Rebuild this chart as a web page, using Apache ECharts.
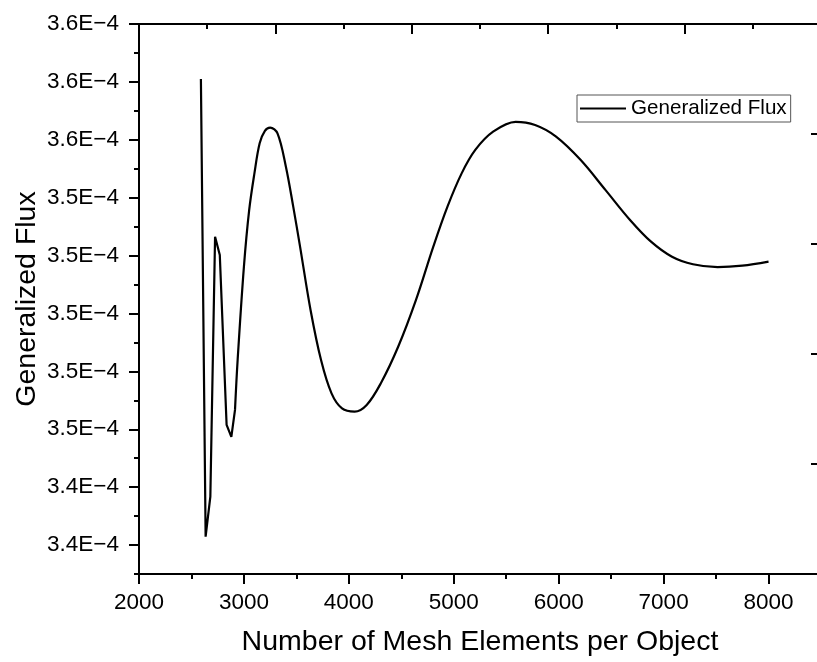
<!DOCTYPE html>
<html><head><meta charset="utf-8">
<script src="https://cdn.jsdelivr.net/npm/echarts@6/dist/echarts.min.js"></script>
<style>html,body{margin:0;padding:0;background:#fff}#c{width:817px;height:662px}</style>
</head><body><div id="c"></div>
<script>
const seriesName = 'Generalized Flux';
const xTitle = 'Number of Mesh Elements per Object';
const yTitle = 'Generalized Flux';

// jagged start (straight segments)
const meshStart = [2590, 2635, 2680, 2725, 2770, 2835, 2880, 2915];
const fluxStart = [3.5810e-4, 3.4229e-4, 3.4367e-4, 3.5265e-4, 3.5202e-4, 3.4615e-4, 3.4574e-4, 3.4667e-4];
// smooth remainder
const meshSmooth = [2915, 2940, 3000, 3050, 3100, 3150, 3200, 3250, 3320, 3400, 3470, 3535, 3635, 3735, 3835, 3935, 4055, 4170, 4305, 4470, 4640, 4805, 4940, 5075, 5205, 5375, 5590, 5775, 5975, 6210, 6445, 6680, 6880, 7080, 7280, 7515, 7750, 8000];
const fluxSmooth = [3.4667e-4, 3.4839e-4, 3.5162e-4, 3.5357e-4, 3.5484e-4, 3.5588e-4, 3.5631e-4, 3.5642e-4, 3.5622e-4, 3.5507e-4, 3.5369e-4, 3.5231e-4, 3.5012e-4, 3.4839e-4, 3.4724e-4, 3.4672e-4, 3.4661e-4, 3.4684e-4, 3.4759e-4, 3.4885e-4, 3.5047e-4, 3.5231e-4, 3.5369e-4, 3.5484e-4, 3.5565e-4, 3.5628e-4, 3.5662e-4, 3.5651e-4, 3.5611e-4, 3.5530e-4, 3.5427e-4, 3.5323e-4, 3.5248e-4, 3.5196e-4, 3.5170e-4, 3.5160e-4, 3.5165e-4, 3.5179e-4];

const yMajorTicks = [3.42e-4, 3.44e-4, 3.46e-4, 3.48e-4, 3.50e-4, 3.52e-4, 3.54e-4, 3.56e-4, 3.58e-4, 3.60e-4];
const yMinorTicks = [3.41e-4, 3.43e-4, 3.45e-4, 3.47e-4, 3.49e-4, 3.51e-4, 3.53e-4, 3.55e-4, 3.57e-4, 3.59e-4];
const xMajorTicks = [2000, 3000, 4000, 5000, 6000, 7000, 8000];
const xMinorTicks = [2500, 3500, 4500, 5500, 6500, 7500];

const FONT = 'Liberation Sans, Arial, Helvetica, sans-serif';
const BLACK = '#000';

const chart = echarts.init(document.getElementById('c'), null, {renderer: 'canvas'});

function zip(a, b) { return a.map((v, i) => [v, b[i]]); }

const yFmt = v => Number(v).toExponential(1).replace('e', 'E').replace('-', '\u2212');
const xFmt = v => String(Math.round(v));

const option = {
  backgroundColor: '#fff',
  animation: false,
  grid: {left: 139, right: -4, top: 24, bottom: 88, containLabel: false, outerBoundsMode: 'none'},
  legend: {
    data: [seriesName],
    left: 577, top: 95,
    orient: 'vertical',
    itemWidth: 46, itemHeight: 14,
    padding: [3, 4, 3, 2],
    borderColor: '#555', borderWidth: 1,
    textStyle: {fontFamily: FONT, fontSize: 20.6, color: BLACK},
    itemStyle: {opacity: 0}
  },
  xAxis: [
    {
      type: 'value', position: 'bottom', min: 2000, max: 8500,
      name: xTitle, nameLocation: 'middle', nameGap: 54, nameMoveOverlap: false,
      nameTextStyle: {fontFamily: FONT, fontSize: 28.5, color: BLACK},
      axisLine: {show: true, lineStyle: {color: BLACK, width: 2}},
      axisTick: {show: true, customValues: xMajorTicks, length: 10, lineStyle: {color: BLACK, width: 2}},
      axisLabel: {show: true, customValues: xMajorTicks, margin: 17, fontFamily: FONT, fontSize: 22.5, color: BLACK, formatter: xFmt},
      splitLine: {show: false}
    },
    {
      type: 'value', position: 'bottom', min: 2000, max: 8500,
      axisLine: {show: false},
      axisTick: {show: true, customValues: xMinorTicks, length: 5, lineStyle: {color: BLACK, width: 2}},
      axisLabel: {show: false},
      splitLine: {show: false}
    },
    {
      type: 'value', position: 'top', min: 0, max: 5, interval: 1,
      axisLine: {show: true, lineStyle: {color: BLACK, width: 2}},
      axisTick: {show: true, inside: true, length: 10, lineStyle: {color: BLACK, width: 2}},
      minorTick: {show: true, splitNumber: 2, length: 5, lineStyle: {color: BLACK, width: 2}},
      axisLabel: {show: false},
      splitLine: {show: false}
    }
  ],
  yAxis: [
    {
      type: 'value', position: 'left', min: 3.41e-4, max: 3.60e-4,
      name: yTitle, nameLocation: 'middle', nameGap: 97, nameMoveOverlap: false,
      nameTextStyle: {fontFamily: FONT, fontSize: 28.5, color: BLACK},
      axisLine: {show: true, lineStyle: {color: BLACK, width: 2}},
      axisTick: {show: true, customValues: yMajorTicks, length: 10, lineStyle: {color: BLACK, width: 2}},
      axisLabel: {show: true, customValues: yMajorTicks, margin: 20, fontFamily: FONT, fontSize: 22.5, color: BLACK, formatter: yFmt},
      splitLine: {show: false}
    },
    {
      type: 'value', position: 'left', min: 3.41e-4, max: 3.60e-4,
      axisLine: {show: false},
      axisTick: {show: true, customValues: yMinorTicks, length: 5, lineStyle: {color: BLACK, width: 2}},
      axisLabel: {show: false},
      splitLine: {show: false}
    },
    {
      type: 'value', position: 'right', min: 0, max: 10, interval: 2,
      axisLine: {show: true, lineStyle: {color: BLACK, width: 2}},
      axisTick: {show: true, inside: true, length: 10, lineStyle: {color: BLACK, width: 2}},
      minorTick: {show: true, splitNumber: 2, length: 4, lineStyle: {color: BLACK, width: 2}},
      axisLabel: {show: false},
      splitLine: {show: false}
    }
  ],
  series: [
    {
      name: seriesName, type: 'line', xAxisIndex: 0, yAxisIndex: 0,
      data: zip(meshStart, fluxStart),
      symbol: 'none', smooth: false,
      lineStyle: {color: BLACK, width: 2.2},
      itemStyle: {color: BLACK}
    },
    {
      name: seriesName, type: 'line', xAxisIndex: 0, yAxisIndex: 0,
      data: zip(meshSmooth, fluxSmooth),
      symbol: 'none', smooth: 0.35,
      lineStyle: {color: BLACK, width: 2.2},
      itemStyle: {color: BLACK}
    }
  ]
};
chart.setOption(option);
</script>
</body></html>
